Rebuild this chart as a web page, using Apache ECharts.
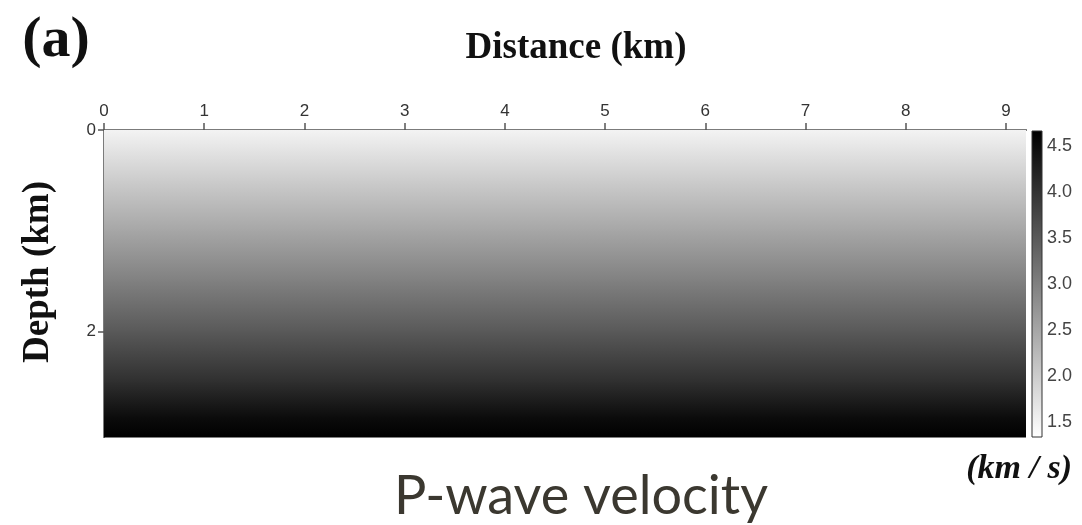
<!DOCTYPE html>
<html>
<head>
<meta charset="utf-8">
<script src="https://cdn.jsdelivr.net/npm/echarts@6/dist/echarts.min.js"></script>
<style>
  html, body { margin: 0; background: #fff; }
  #chart { width: 1082px; height: 525px; }
</style>
</head>
<body>
<div id="chart"></div>
<script>
// tick labels
const distanceTicks = [0, 1, 2, 3, 4, 5, 6, 7, 8, 9]
const depthTicks = [0, 2]
const velocityTicks = [1.5, 2.0, 2.5, 3.0, 3.5, 4.0, 4.5]

// velocity model (km/s) read at depth knots (km), constant along distance
const depthKnots = [0, 0.5, 1.0, 1.5, 2.0, 2.5, 2.85, 3.05]
const velocityAtKnots = [1.5, 2.0, 2.5, 3.0, 3.5, 4.05, 4.5, 4.7]

// colour scale range shown by the colour bar
const velocityRange = [1.34, 4.66]
const distanceMax = 9.2
const depthMax = 3.05

function grayOf(v) {
  let t = (v - velocityRange[0]) / (velocityRange[1] - velocityRange[0])
  t = Math.max(0, Math.min(1, t))
  const g = Math.round(255 * (1 - t))
  return 'rgb(' + g + ',' + g + ',' + g + ')'
}

const bands = []
for (let i = 0; i < depthKnots.length - 1; i++) {
  bands.push([depthKnots[i], depthKnots[i + 1], velocityAtKnots[i], velocityAtKnots[i + 1]])
}

const tickFont = { color: '#333', fontSize: 17, fontFamily: 'Liberation Sans' }
const serifBold = { fontFamily: 'Liberation Serif', fontWeight: 'bold', fill: '#111' }

const chart = echarts.init(document.getElementById('chart'))
chart.setOption({
  animation: false,
  backgroundColor: '#fff',
  grid: [
    { left: 104, top: 130, width: 922, height: 307 },
    { left: 1032, top: 131, width: 10, height: 306 }
  ],
  xAxis: [
    {
      gridIndex: 0, type: 'value', position: 'top', min: 0, max: distanceMax,
      axisLine: { show: true, lineStyle: { color: '#555', width: 2 } },
      axisTick: { show: true, length: 7, customValues: distanceTicks, lineStyle: { color: '#555', width: 1.5 } },
      axisLabel: { show: true, customValues: distanceTicks, margin: 10, ...tickFont },
      splitLine: { show: false }
    },
    {
      gridIndex: 0, type: 'value', position: 'bottom', min: 0, max: distanceMax,
      axisLine: { show: true, lineStyle: { color: '#888', width: 1.5 } },
      axisTick: { show: false }, axisLabel: { show: false }, splitLine: { show: false }
    },
    {
      gridIndex: 1, type: 'value', min: 0, max: 1, show: false
    }
  ],
  yAxis: [
    {
      gridIndex: 0, type: 'value', inverse: true, min: 0, max: depthMax, position: 'left',
      axisLine: { show: true, lineStyle: { color: '#555', width: 2 } },
      axisTick: { show: true, length: 6, customValues: depthTicks, lineStyle: { color: '#555', width: 1.5 } },
      axisLabel: { show: true, customValues: depthTicks, margin: 8, ...tickFont },
      splitLine: { show: false }
    },
    {
      gridIndex: 0, type: 'value', inverse: true, min: 0, max: depthMax, position: 'right',
      axisLine: { show: true, lineStyle: { color: '#888', width: 1.5 } },
      axisTick: { show: false }, axisLabel: { show: false }, splitLine: { show: false }
    },
    {
      gridIndex: 1, type: 'value', min: velocityRange[0], max: velocityRange[1], position: 'right',
      axisLine: { show: false },
      axisTick: { show: true, length: 4, customValues: velocityTicks, lineStyle: { color: '#555', width: 1 } },
      axisLabel: {
        show: true, customValues: velocityTicks, margin: 5, ...tickFont, color: '#444', fontSize: 18,
        formatter: (v) => v.toFixed(1)
      },
      splitLine: { show: false }
    }
  ],
  series: [
    {
      type: 'custom',
      xAxisIndex: 0,
      yAxisIndex: 0,
      data: bands,
      z: 1,
      renderItem(params, api) {
        const p0 = api.coord([0, api.value(0)])
        const p1 = api.coord([distanceMax, api.value(1)])
        return {
          type: 'rect',
          shape: { x: p0[0], y: p0[1], width: p1[0] - p0[0], height: p1[1] - p0[1] + 0.6 },
          style: {
            fill: new echarts.graphic.LinearGradient(0, 0, 0, 1, [
              { offset: 0, color: grayOf(api.value(2)) },
              { offset: 1, color: grayOf(api.value(3)) }
            ])
          }
        }
      }
    },
    {
      // colour bar
      type: 'custom',
      xAxisIndex: 2,
      yAxisIndex: 2,
      data: [velocityRange],
      renderItem(params, api) {
        const pTop = api.coord([0, api.value(1)])
        const pBot = api.coord([1, api.value(0)])
        return {
          type: 'rect',
          shape: { x: pTop[0], y: pTop[1], width: pBot[0] - pTop[0], height: pBot[1] - pTop[1] },
          style: {
            fill: new echarts.graphic.LinearGradient(0, 0, 0, 1, [
              { offset: 0, color: grayOf(api.value(1)) },
              { offset: 1, color: grayOf(api.value(0)) }
            ]),
            stroke: '#333',
            lineWidth: 1
          }
        }
      }
    }
  ],
  graphic: [
    { type: 'text', x: 56, y: 41, style: { text: '(a)', fontSize: 58, textAlign: 'center', textVerticalAlign: 'middle', ...serifBold } },
    { type: 'text', x: 576, y: 48, style: { text: 'Distance (km)', fontSize: 37, textAlign: 'center', textVerticalAlign: 'middle', ...serifBold } },
    { type: 'text', x: 38, y: 272, rotation: Math.PI / 2, style: { text: 'Depth (km)', fontSize: 37, textAlign: 'center', textVerticalAlign: 'middle', ...serifBold } },
    { type: 'text', x: 1072, y: 469, style: { text: '(km / s)', fontSize: 34, textAlign: 'right', textVerticalAlign: 'middle', fontFamily: 'Liberation Serif', fontWeight: 'bold', fontStyle: 'italic', fill: '#111' } },
    { type: 'text', x: 581, y: 497, style: { text: 'P-wave velocity', fontSize: 54, textAlign: 'center', textVerticalAlign: 'middle', fontFamily: 'Lato', fill: '#3b3830' } }
  ]
})
</script>
</body>
</html>
